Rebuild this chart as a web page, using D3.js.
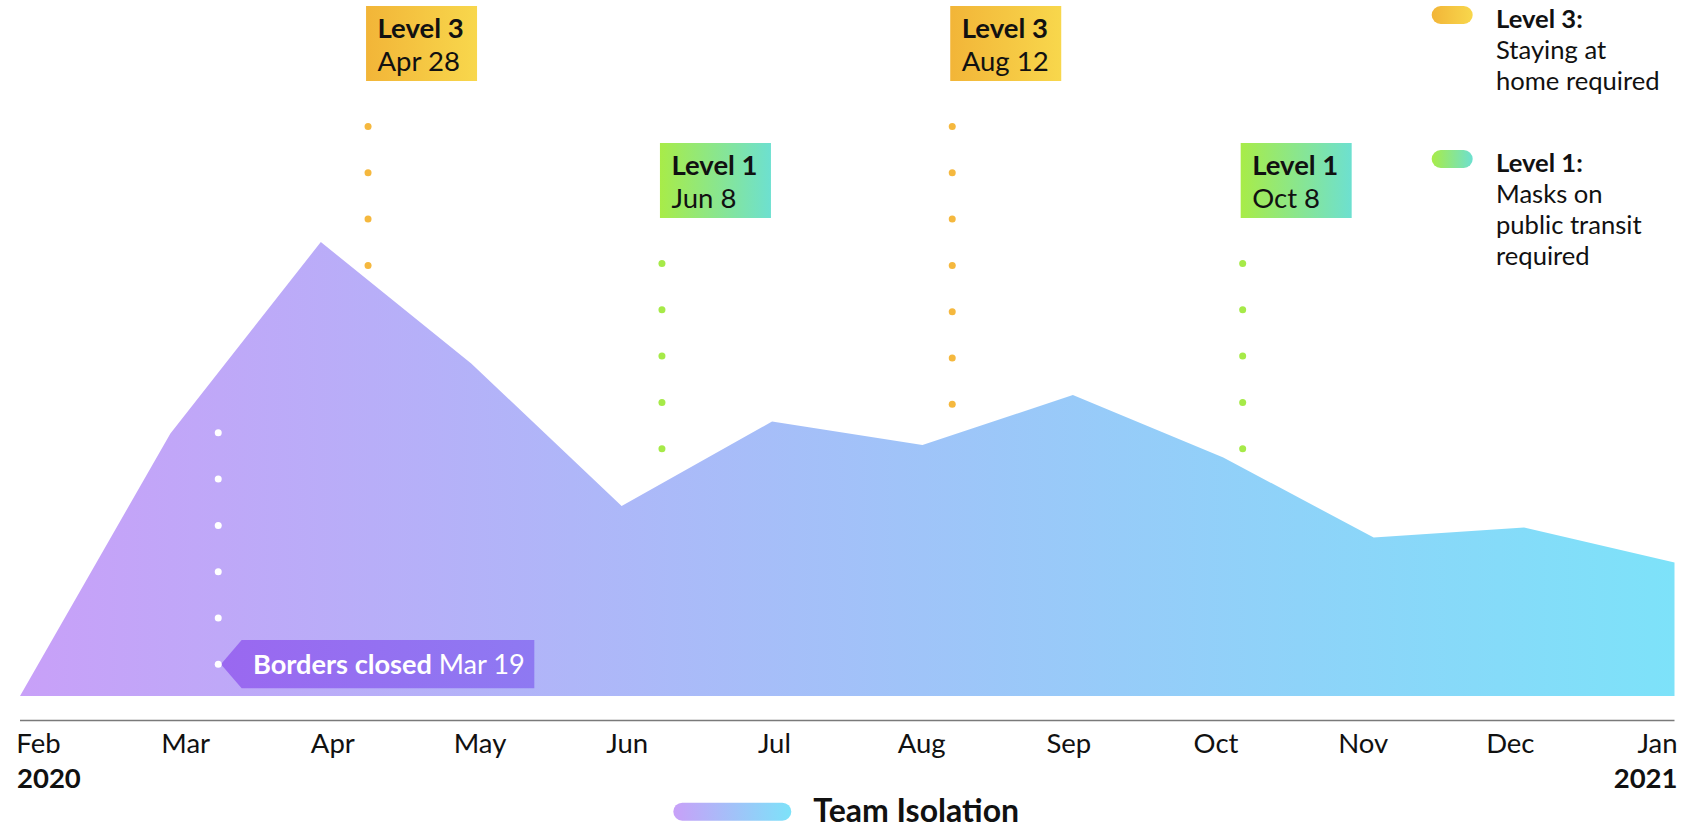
<!DOCTYPE html>
<html><head><meta charset="utf-8">
<script src="https://cdn.jsdelivr.net/npm/d3@7"></script>
<style>
html,body{margin:0;padding:0;background:#fff;}
svg{display:block;font-family:Lato,"Open Sans",sans-serif;}
</style></head><body>
<svg id="chart" width="1698" height="828"></svg>
<script>
// ---------- data ----------
const months = ["Feb","Mar","Apr","May","Jun","Jul","Aug","Sep","Oct","Nov","Dec","Jan"];
const yearStart = "2020";
const yearEnd = "2021";
const isolation = [0, 52.5, 90.8, 66.5, 38, 54.9, 50.2, 60.2, 47.7, 31.7, 33.7, 26.7];
const seriesName = "Team Isolation";

const eventLevels = ["Level 3", "Level 1", "Level 3", "Level 1"];
const eventDates  = ["Apr 28", "Jun 8", "Aug 12", "Oct 8"];
const eventPos    = [2.314, 4.268, 6.198, 8.129];   // position on month axis (0 = Feb)
const eventDots   = [4, 5, 7, 5];

const borderTitle = "Borders closed";
const borderDate  = "Mar 19";
const borderPos   = 1.318;
const borderDots  = 6;

const legendTitles = ["Level 3:", "Level 1:"];
const legendLines  = [["Staying at", "home required"], ["Masks on", "public transit", "required"]];

// ---------- setup ----------
const svg = d3.select("#chart");
const FS = 27.5;
const LFS = 25.6;
const x = d3.scaleLinear().domain([0, months.length - 1]).range([20, 1674.5]);
const y = d3.scaleLinear().domain([0, 100]).range([696, 196]);
const labelX = d3.scalePoint().domain(months).range([38, 1657]);

const defs = svg.append("defs");
function grad(id, c1, c2, x1, x2, user) {
  const g = defs.append("linearGradient").attr("id", id);
  if (user) g.attr("gradientUnits", "userSpaceOnUse").attr("x1", x1).attr("x2", x2).attr("y1", 0).attr("y2", 0);
  else g.attr("x1", "0%").attr("x2", "100%").attr("y1", "0%").attr("y2", "0%");
  g.append("stop").attr("offset", "0%").attr("stop-color", c1);
  g.append("stop").attr("offset", "100%").attr("stop-color", c2);
}
grad("areaGrad", "#C8A0F8", "#7DE2F9", x(0), x(11), true);
grad("pillIso", "#C8A0F8", "#7DE2F9");
grad("lvl3", "#F2B538", "#F8D74C");
grad("lvl1", "#A8EC48", "#6DE0D0");
grad("border", "#9A68F0", "#8E79F2");

const levelFill = {"Level 3": "url(#lvl3)", "Level 1": "url(#lvl1)"};
const levelDot  = {"Level 3": "#F5B83E", "Level 1": "#A6EA48"};
const levelTop  = {"Level 3": 6, "Level 1": 143};

// ---------- area ----------
const area = d3.area()
  .x((d, i) => x(i))
  .y0(y(0))
  .y1(d => y(d));
svg.append("path").datum(isolation).attr("d", area).attr("fill", "url(#areaGrad)");

// ---------- axis ----------
svg.append("line")
  .attr("x1", x(0)).attr("x2", x(11)).attr("y1", 720.5).attr("y2", 720.5)
  .attr("stroke", "#7a7a7a").attr("stroke-width", 1.5);

const ax = svg.append("g").attr("transform", "translate(0,720)")
  .call(d3.axisBottom(labelX).tickSize(0).tickPadding(0));
ax.select(".domain").remove();
ax.selectAll("text").attr("y", 33).attr("dy", 0)
  .attr("font-size", FS).attr("font-family", "Lato,'Open Sans',sans-serif").attr("fill", "#111");

svg.append("text").attr("x", x(0) - 3).attr("y", 788).attr("font-size", FS).attr("font-weight", 700)
  .attr("fill", "#111").text(yearStart);
svg.append("text").attr("x", x(11) + 3).attr("y", 788).attr("font-size", FS).attr("font-weight", 700)
  .attr("text-anchor", "end").attr("fill", "#111").text(yearEnd);

// ---------- level annotations ----------
const BW = 111, BH = 75, DS = 46.3;
eventLevels.forEach((lvl, i) => {
  const cx = x(eventPos[i]);
  const top = levelTop[lvl];
  const g = svg.append("g");
  g.append("rect").attr("x", cx - 2).attr("y", top).attr("width", BW).attr("height", BH)
    .attr("fill", levelFill[lvl]);
  const t = g.append("text").attr("x", cx + 9.5).attr("y", top + 32).attr("font-size", FS).attr("fill", "#111");
  t.append("tspan").attr("font-weight", 700).text(lvl);
  t.append("tspan").attr("x", cx + 9.5).attr("dy", 33).text(eventDates[i]);
  d3.range(eventDots[i]).forEach(k => {
    g.append("circle").attr("cx", cx).attr("cy", top + BH + 45.5 + k * DS).attr("r", 3.5)
      .attr("fill", levelDot[lvl]);
  });
});

// ---------- borders closed ----------
{
  const cx = x(borderPos);
  const cy = 664.3;
  const tip = cx + 2.7;
  const g = svg.append("g");
  const poly = g.append("path").attr("fill", "url(#border)");
  const t = g.append("text").attr("x", tip + 32).attr("y", cy + 10).attr("font-size", 27.2).attr("fill", "#fff");
  t.append("tspan").attr("font-weight", 700).text(borderTitle + " ");
  t.append("tspan").text(borderDate);
  const tw = t.node().getComputedTextLength();
  const right = tip + 32 + tw + 9.5;
  poly.attr("d", `M${tip},${cy} L${tip + 20.7},${cy - 24.3} L${right},${cy - 24.3} L${right},${cy + 24} L${tip + 20.7},${cy + 24} Z`);
  d3.range(borderDots).forEach(k => {
    g.append("circle").attr("cx", cx).attr("cy", cy - k * DS).attr("r", 3.5).attr("fill", "#fff");
  });
}

// ---------- right legend ----------
const legTops = [6, 150];
const legFills = ["url(#lvl3)", "url(#lvl1)"];
const LLH = 31;
legendTitles.forEach((tt, i) => {
  const top = legTops[i];
  svg.append("rect").attr("x", 1431.7).attr("y", top).attr("width", 41).attr("height", 18).attr("rx", 9)
    .attr("fill", legFills[i]);
  const t = svg.append("text").attr("x", 1496).attr("y", top + 21.5).attr("font-size", LFS).attr("fill", "#111");
  t.append("tspan").attr("font-weight", 700).text(tt);
  legendLines[i].forEach(ln => {
    t.append("tspan").attr("x", 1496).attr("dy", LLH).text(ln);
  });
});

// ---------- bottom legend ----------
svg.append("rect").attr("x", 673.3).attr("y", 802.7).attr("width", 118).attr("height", 18).attr("rx", 9)
  .attr("fill", "url(#pillIso)");
svg.append("text").attr("x", 813.3).attr("y", 821.5).attr("font-size", 32).attr("font-weight", 700)
  .attr("fill", "#111").text(seriesName);
</script>
</body></html>
